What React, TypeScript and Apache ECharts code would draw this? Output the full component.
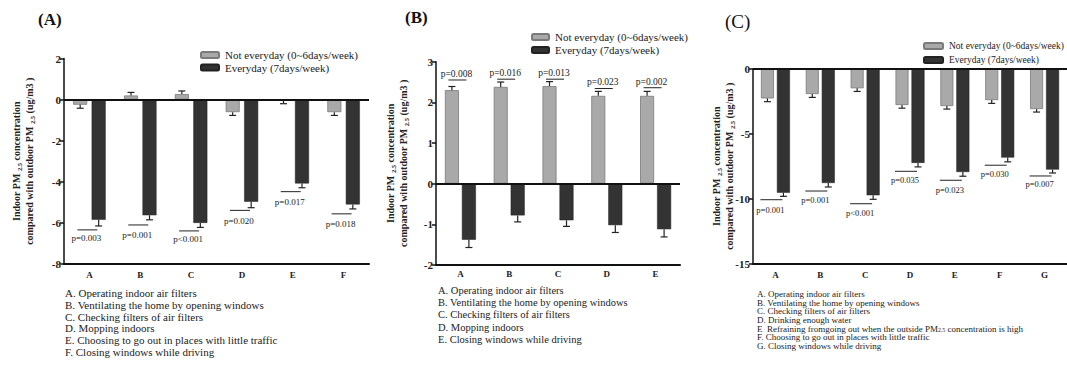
import React, { useEffect, useRef } from "react";
import * as echarts from "echarts";

const SERIF = "'Liberation Serif', 'Times New Roman', serif";
const NAME_NOT = "Not everyday (0~6days/week)";
const NAME_EVERY = "Everyday (7days/week)";

// ---------- Panel A ----------
const catsA = ["A", "B", "C", "D", "E", "F"];
const notEverydayA = [-0.25, 0.2, 0.27, -0.61, -0.05, -0.61];
const notEverydayErrA = [-0.42, 0.35, 0.42, -0.77, -0.2, -0.77];
const everydayA = [-5.85, -5.63, -6.0, -4.97, -4.08, -5.1];
const everydayErrA = [-6.15, -5.85, -6.22, -5.26, -4.29, -5.32];
const pLabelsA = ["p=0.003", "p=0.001", "p<0.001", "p=0.020", "p=0.017", "p=0.018"];
const pLineA = [-6.34, -6.1, -6.39, -5.39, -4.48, -5.56];
const pTextA = [-6.74, -6.58, -6.77, -5.9, -4.97, -6.05];
const notesA = [
  "A. Operating indoor air filters",
  "B. Ventilating the home by opening windows",
  "C. Checking filters of air filters",
  "D. Mopping indoors",
  "E. Choosing to go out in places with little traffic",
  "F. Closing windows while driving",
];

// ---------- Panel B ----------
const catsB = ["A", "B", "C", "D", "E"];
const notEverydayB = [2.3, 2.38, 2.4, 2.16, 2.16];
const notEverydayErrB = [2.39, 2.5, 2.51, 2.27, 2.27];
const everydayB = [-1.38, -0.78, -0.9, -1.02, -1.12];
const everydayErrB = [-1.57, -0.94, -1.05, -1.2, -1.31];
const pLabelsB = ["p=0.008", "p=0.016", "p=0.013", "p=0.023", "p=0.002"];
const pLineB = [2.55, 2.57, 2.57, 2.34, 2.36];
const pTextB = [2.7, 2.72, 2.72, 2.49, 2.51];
const notesB = [
  "A. Operating indoor air filters",
  "B. Ventilating the home by opening windows",
  "C. Checking filters of air filters",
  "D. Mopping indoors",
  "E. Closing windows while driving",
];

// ---------- Panel C ----------
const catsC = ["A", "B", "C", "D", "E", "F", "G"];
const notEverydayC = [-2.27, -1.93, -1.49, -2.78, -2.86, -2.4, -3.09];
const notEverydayErrC = [-2.52, -2.19, -1.73, -3.02, -3.09, -2.65, -3.32];
const everydayC = [-9.54, -8.79, -9.74, -7.24, -7.94, -6.83, -7.76];
const everydayErrC = [-9.82, -9.1, -10.05, -7.55, -8.27, -7.16, -8.02];
const pLabelsC = ["p=0.001", "p=0.001", "p<0.001", "p=0.035", "p=0.023", "p=0.030", "p=0.007"];
const pLineC = [-10.08, -9.41, -10.39, -7.89, -8.58, -7.42, -8.25];
const pTextC = [-10.85, -10.08, -11.08, -8.58, -9.3, -8.07, -8.9];
const notesC = [
  "A. Operating indoor air filters",
  "B. Ventilating the home by opening windows",
  "C. Checking filters of air filters",
  "D. Drinking enough water",
  "E  Refraining fromgoing out when the outside PM{sub|2.5} concentration is high",
  "F. Choosing to go out in places with little traffic",
  "G. Closing windows while driving",
];

const GREY = "#a9a9a9";
const DARK = "#333333";
const INK = "#222222";

type PanelCfg = {
  cats: string[];
  notEv: number[];
  notEvErr: number[];
  ev: number[];
  evErr: number[];
  pLabels: string[];
  pLine: number[];
  pText: number[];
  grid: { left: number; top: number; width: number; height: number };
  min: number;
  max: number;
  interval: number;
  barWidth: number;
  gapPx: number;
  pOffset: number;
  pLineHalf: number;
  pFont: number;
  xLabelMargin: number;
  nameGap: number;
  nameMove: boolean;
};

const panels: PanelCfg[] = [
  {
    cats: catsA, notEv: notEverydayA, notEvErr: notEverydayErrA, ev: everydayA, evErr: everydayErrA,
    pLabels: pLabelsA, pLine: pLineA, pText: pTextA,
    grid: { left: 64, top: 58.5, width: 305, height: 205.5 },
    min: -8, max: 2, interval: 2, barWidth: 14, gapPx: 4.5, pOffset: -2, pLineHalf: 10, pFont: 9,
    xLabelMargin: 6, nameGap: 28, nameMove: true,
  },
  {
    cats: catsB, notEv: notEverydayB, notEvErr: notEverydayErrB, ev: everydayB, evErr: everydayErrB,
    pLabels: pLabelsB, pLine: pLineB, pText: pTextB,
    grid: { left: 436, top: 61.7, width: 244, height: 203.3 },
    min: -2, max: 3, interval: 1, barWidth: 14, gapPx: 3, pOffset: -3, pLineHalf: 9, pFont: 9.5,
    xLabelMargin: 4, nameGap: 26, nameMove: true,
  },
  {
    cats: catsC, notEv: notEverydayC, notEvErr: notEverydayErrC, ev: everydayC, evErr: everydayErrC,
    pLabels: pLabelsC, pLine: pLineC, pText: pTextC,
    grid: { left: 753, top: 69, width: 314, height: 194.5 },
    min: -15, max: 0, interval: 5, barWidth: 13, gapPx: 3, pOffset: -4, pLineHalf: 11, pFont: 8.5,
    xLabelMargin: 7, nameGap: 17, nameMove: false,
  },
];

const legendPos = [
  { left: 195, top: 44.5, itemGap: 1.5, fontSize: 11, itemWidth: 18 },
  { left: 526, top: 26.5, itemGap: 2, fontSize: 11, itemWidth: 17 },
  { left: 918, top: 36, itemGap: 4, fontSize: 9.5, itemWidth: 19 },
];

const yName =
  "{b|Indoor PM }{s|2.5}{b| concentration}\n{b|compared with outdoor PM }{s|2.5}{b| (ug/m3 )}";

function errorBarSeries(idx: number, vals: number[], errs: number[], offset: number) {
  return {
    type: "custom",
    xAxisIndex: idx,
    yAxisIndex: idx,
    silent: true,
    z: 5,
    itemStyle: { color: INK },
    data: vals.map((v, i) => [i, v, errs[i]]),
    renderItem: (_params: any, api: any) => {
      const i = api.value(0);
      const p1 = api.coord([i, api.value(1)]);
      const p2 = api.coord([i, api.value(2)]);
      const x = p1[0] + offset;
      const style = { stroke: INK, lineWidth: 1.2, fill: null };
      return {
        type: "group",
        children: [
          { type: "line", shape: { x1: x, y1: p1[1], x2: x, y2: p2[1] }, style },
          { type: "line", shape: { x1: x - 3.5, y1: p2[1], x2: x + 3.5, y2: p2[1] }, style },
        ],
      };
    },
  };
}

function pSeries(idx: number, cfg: PanelCfg) {
  return {
    type: "custom",
    xAxisIndex: idx,
    yAxisIndex: idx,
    silent: true,
    z: 6,
    itemStyle: { color: INK },
    data: cfg.pLine.map((v, i) => [i, v, cfg.pText[i]]),
    renderItem: (params: any, api: any) => {
      const i = api.value(0);
      const pl = api.coord([i, api.value(1)]);
      const pt = api.coord([i, api.value(2)]);
      const cx = pl[0] + cfg.pOffset;
      return {
        type: "group",
        children: [
          {
            type: "line",
            shape: { x1: cx - cfg.pLineHalf, y1: pl[1], x2: cx + cfg.pLineHalf, y2: pl[1] },
            style: { stroke: INK, lineWidth: 1 },
          },
          {
            type: "text",
            x: cx - 1,
            y: pt[1],
            style: {
              text: cfg.pLabels[params.dataIndex],
              fill: INK,
              fontSize: cfg.pFont,
              fontFamily: SERIF,
              align: "center",
              verticalAlign: "middle",
            },
          },
        ],
      };
    },
  };
}

export default function App() {
  const ref = useRef<HTMLDivElement>(null);

  useEffect(() => {
    if (!ref.current) return;
    const chart = echarts.init(ref.current, undefined, { renderer: "svg" });

    const grids: any[] = [];
    const xAxes: any[] = [];
    const yAxes: any[] = [];
    const series: any[] = [];

    panels.forEach((cfg, idx) => {
      grids.push({ ...cfg.grid, containLabel: false });
      xAxes.push({
        type: "category",
        gridIndex: idx,
        data: cfg.cats,
        axisLine: { show: true, onZero: false, lineStyle: { color: "#111", width: 2 } },
        axisTick: { show: false },
        axisLabel: {
          fontFamily: SERIF,
          fontWeight: "bold",
          fontSize: 9,
          color: INK,
          margin: cfg.xLabelMargin,
        },
      });
      yAxes.push({
        type: "value",
        gridIndex: idx,
        min: cfg.min,
        max: cfg.max,
        interval: cfg.interval,
        splitLine: { show: false },
        axisLine: { show: true, lineStyle: { color: "#111", width: 1.5 } },
        axisTick: { show: true, length: 4, lineStyle: { color: "#111", width: 1.5 } },
        axisLabel: {
          fontFamily: SERIF,
          fontWeight: "bold",
          fontSize: 11,
          color: INK,
          margin: 3,
        },
        name: yName,
        nameLocation: "middle",
        nameRotate: 90,
        nameGap: cfg.nameGap,
        nameMoveOverlap: cfg.nameMove,
        nameTextStyle: {
          color: INK,
          lineHeight: 13,
          rich: {
            b: { fontFamily: SERIF, fontWeight: "bold", fontSize: 10, color: INK, lineHeight: 13 },
            s: { fontFamily: SERIF, fontWeight: "bold", fontSize: 6.5, color: INK, lineHeight: 13, verticalAlign: "bottom" },
          },
        },
      });

      const barGap = `${((cfg.gapPx / cfg.barWidth) * 100).toFixed(1)}%`;
      const off = (cfg.barWidth + cfg.gapPx) / 2;

      series.push({
        type: "bar",
        name: NAME_NOT,
        xAxisIndex: idx,
        yAxisIndex: idx,
        data: cfg.notEv,
        barWidth: cfg.barWidth,
        barGap,
        itemStyle: { color: GREY, borderColor: "#7a7a7a", borderWidth: 0.8 },
        markLine: {
          silent: true,
          symbol: "none",
          label: { show: false },
          lineStyle: { color: "#111", width: 2, type: "solid" },
          data: [{ yAxis: 0 }],
        },
      });
      series.push({
        type: "bar",
        name: NAME_EVERY,
        xAxisIndex: idx,
        yAxisIndex: idx,
        data: cfg.ev,
        barWidth: cfg.barWidth,
        barGap,
        itemStyle: { color: DARK, borderColor: "#222", borderWidth: 0.5 },
      });
      series.push(errorBarSeries(idx, cfg.notEv, cfg.notEvErr, -off));
      series.push(errorBarSeries(idx, cfg.ev, cfg.evErr, off));
      series.push(pSeries(idx, cfg));
    });

    const legends = legendPos.map((l) => ({
      left: l.left,
      top: l.top,
      orient: "vertical",
      itemGap: l.itemGap,
      itemWidth: l.itemWidth,
      itemHeight: 6,
      selectedMode: false,
      data: [NAME_NOT, NAME_EVERY],
      textStyle: { fontFamily: SERIF, fontSize: l.fontSize, color: INK, padding: [0, 0, 0, 1] },
    }));

    const graphic: any[] = [];
    const titles = [
      { t: "(A)", x: 38, y: 19, size: 17, bold: true },
      { t: "(B)", x: 405, y: 17, size: 17, bold: true },
      { t: "(C)", x: 725, y: 21, size: 19, bold: false },
    ];
    titles.forEach((t) =>
      graphic.push({
        type: "text",
        left: t.x,
        top: t.y - t.size / 2,
        style: {
          text: t.t,
          font: `${t.bold ? "bold " : ""}${t.size}px ${SERIF}`,
          fill: "#111",
        },
      })
    );

    const noteCfg = [
      { notes: notesA, x: 65, y0: 294, dy: 11.8, size: 11 },
      { notes: notesB, x: 438, y0: 291, dy: 12.25, size: 10.5 },
      { notes: notesC, x: 757, y0: 295, dy: 8.67, size: 9 },
    ];
    noteCfg.forEach((n) =>
      n.notes.forEach((line, i) =>
        graphic.push({
          type: "text",
          left: n.x,
          top: n.y0 + i * n.dy - n.size / 2 - 1,
          style: {
            text: line,
            font: `${n.size}px ${SERIF}`,
            fill: INK,
            rich: {
              sub: { fontSize: n.size * 0.65, fontFamily: SERIF, fill: INK, verticalAlign: "bottom" },
            },
          },
        })
      )
    );

    chart.setOption({
      animation: false,
      backgroundColor: "#ffffff",
      grid: grids,
      xAxis: xAxes,
      yAxis: yAxes,
      legend: legends,
      series,
      graphic,
    });

    return () => chart.dispose();
  }, []);

  return (
    <div
      ref={ref}
      style={{ position: "fixed", left: 0, top: 0, width: 1067, height: 367 }}
    />
  );
}
